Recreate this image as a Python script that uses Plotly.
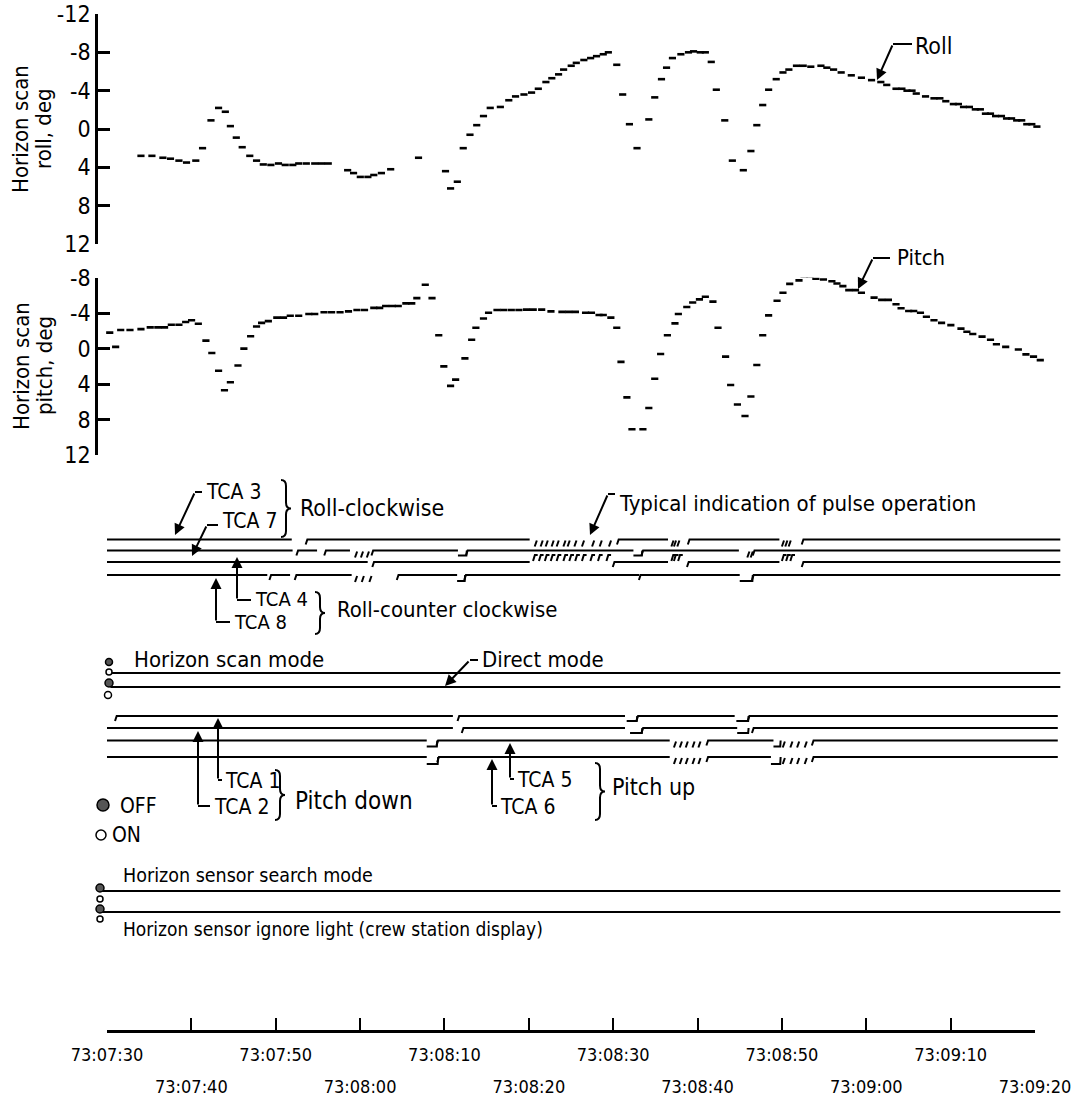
import plotly.graph_objects as go

W, H = 1074, 1107
FONT = "'Liberation Sans Narrow', 'DejaVu Sans Condensed', 'Arial Narrow', sans-serif"

# ---------------- data (time = seconds after 73:07:30) ----------------
TIME_TICKS = [0, 10, 20, 30, 40, 50, 60, 70, 80, 90, 100, 110]
TIME_LABELS = ["73:07:30", "73:07:40", "73:07:50", "73:08:00", "73:08:10", "73:08:20",
               "73:08:30", "73:08:40", "73:08:50", "73:09:00", "73:09:10", "73:09:20"]
ANGLE_TICKS = [-12, -8, -4, 0, 4, 8, 12]

roll_t = [3.6, 4.9, 6.2, 7.1, 8.1, 9.0, 10.1, 10.9, 11.9, 12.8, 13.6, 14.2, 14.9, 15.6,
          16.5, 17.3, 18.1, 19.0, 19.9, 20.7, 21.6, 22.3, 23.2, 24.2, 25.0, 25.8, 28.1,
          28.8, 29.6, 30.5, 31.2, 32.1, 33.2, 36.5, 39.7, 40.3, 41.1, 41.8, 42.6, 43.4,
          44.2, 45.0, 46.2, 47.2, 48.0, 49.0, 49.9, 50.7, 51.6, 52.3, 53.1, 53.7, 54.6,
          55.2, 56.1, 56.9, 57.6, 58.4, 59.0, 60.0, 60.7, 61.5, 62.4, 63.8, 64.5, 65.3,
          65.9, 66.6, 67.6, 68.5, 69.1, 69.9, 70.5, 71.2, 71.8, 72.8, 73.7, 75.0, 75.9,
          76.6, 77.3, 78.0, 78.9, 79.7, 80.4, 81.3, 82.1, 83.0, 84.2, 84.9, 85.7, 86.6,
          87.8, 89.0, 90.2, 91.3, 92.0, 93.1, 93.8, 94.4, 95.0, 95.5, 96.6, 97.6, 98.3,
          99.0, 99.9, 100.5, 101.1, 101.8, 102.5, 103.1, 103.7, 104.3, 104.9, 105.6,
          106.2, 106.8, 107.4, 108.0, 108.6, 109.2, 109.8]
roll_v = [2.8, 2.8, 3.0, 3.1, 3.3, 3.5, 3.3, 2.0, -0.9, -2.2, -1.8, -0.3, 0.9, 1.9,
          2.8, 3.3, 3.7, 3.75, 3.6, 3.75, 3.75, 3.6, 3.6, 3.6, 3.6, 3.6, 4.3,
          4.6, 5.0, 5.0, 4.8, 4.6, 4.2, 3.0, 4.4, 6.2, 5.5, 2.0, 0.6, -0.4,
          -1.35, -2.2, -2.3, -3.0, -3.4, -3.6, -3.8, -4.2, -4.9, -5.3, -5.7, -6.2, -6.6,
          -6.9, -7.2, -7.4, -7.6, -7.8, -8.0, -6.7, -3.6, -0.5, 2.0, -1.0, -3.3, -5.2,
          -6.4, -7.4, -7.8, -8.0, -8.1, -8.0, -8.0, -7.0, -4.1, -0.9, 3.3, 4.3, 2.3,
          -0.4, -2.5, -4.1, -5.2, -5.9, -6.2, -6.6, -6.6, -6.5, -6.6, -6.4, -6.2, -5.9,
          -5.6, -5.35, -5.1, -4.9, -4.6, -4.2, -4.2, -4.0, -4.0, -3.7, -3.4, -3.2, -3.2,
          -2.9, -2.6, -2.6, -2.3, -2.3, -2.05, -2.05, -1.6, -1.6, -1.35, -1.35,
          -1.1, -1.1, -0.9, -0.9, -0.5, -0.5, -0.25]

pitch_t = [-0.1, 0.6, 1.2, 2.3, 3.6, 4.7, 5.6, 6.4, 7.2, 8.1, 8.9, 9.6, 10.4, 11.3,
           12.0, 12.8, 13.5, 14.2, 15.1, 15.8, 16.6, 17.3, 17.9, 18.7, 19.7, 20.5, 21.3,
           22.3, 23.5, 24.2, 25.3, 26.2, 27.2, 28.2, 29.2, 30.1, 31.2, 31.9, 32.6, 33.4,
           34.1, 35.0, 35.7, 36.3, 37.3, 38.1, 38.9, 39.5, 40.3, 40.9, 42.0, 42.8, 43.3,
           44.2, 44.8, 45.8, 46.6, 47.5, 48.4, 49.3, 50.1, 51.1, 52.2, 53.5, 54.3, 55.1,
           56.3, 57.0, 57.9, 58.4, 59.3, 60.0, 60.5, 61.2, 61.8, 63.1, 63.8, 64.5, 65.2,
           66.0, 66.9, 67.3, 68.3, 69.0, 69.8, 70.5, 71.4, 72.0, 72.9, 73.5, 74.3, 75.2,
           75.9, 76.6, 77.3, 78.0, 79.0, 79.7, 80.5, 81.6, 82.2, 82.9, 83.6, 84.5, 85.5,
           86.1, 86.8, 87.5, 88.3, 89.0, 90.5, 91.4, 92.2, 93.1, 93.7, 94.6, 95.2, 96.0,
           96.7, 97.6, 98.5, 99.6, 100.8, 101.5, 102.2, 103.3, 104.3, 105.0, 106.1,
           107.6, 108.5, 109.4, 110.2]
pitch_v = [-1.8, -0.2, -2.1, -2.1, -2.2, -2.4, -2.4, -2.4, -2.7, -2.7, -3.0, -3.2, -2.8, -0.9,
           0.5, 2.5, 4.7, 3.8, 1.9, 0.0, -1.4, -2.5, -2.9, -3.1, -3.5, -3.5, -3.7,
           -3.7, -3.9, -3.9, -4.1, -4.1, -4.1, -4.2, -4.35, -4.35, -4.6, -4.6, -4.8, -4.8,
           -4.8, -5.1, -5.1, -5.7, -7.2, -5.7, -1.5, 2.0, 4.2, 3.5, 1.1, -1.0, -2.35,
           -3.4, -4.05, -4.35, -4.35, -4.35, -4.35, -4.4, -4.4, -4.4, -4.2, -4.15, -4.15, -4.15,
           -4.05, -4.05, -3.8, -3.8, -3.5, -2.35, 1.5, 5.5, 9.1, 9.1, 6.7, 3.4, 0.6,
           -1.5, -2.85, -3.9, -4.7, -5.2, -5.55, -5.85, -5.3, -2.35, 0.9, 4.1, 6.3, 7.6,
           5.4, 1.85, -1.5, -3.75, -5.4, -6.3, -7.3, -7.7, -8.1, -8.1, -7.9, -7.8, -7.6,
           -7.35, -7.05, -6.6, -6.6, -6.3, -5.75, -5.5, -5.5, -5.0, -4.55, -4.25, -4.25, -4.05,
           -3.6, -3.2, -2.9, -2.65, -2.25, -1.9, -1.65, -1.35, -1.0, -0.5, -0.2,
           0.1, 0.65, 0.9, 1.3]

# discrete event channels: solid intervals, short offset steps, pulse times (s)
tca3_on = [[0, 21.9], [23.6, 50.1], [60.5, 66.5], [68.9, 79.7], [82.4, 113.0]]
tca3_step = []
tca3_pulse = [50.7, 51.4, 52.0, 52.7, 53.3, 54.1, 54.6, 55.4, 56.3, 57.5, 58.4, 59.5,
              66.9, 67.2, 67.6, 80.0, 80.4, 80.8]
tca7_on = [[0, 22.0], [22.5, 24.9], [25.8, 28.8], [31.4, 41.6], [42.6, 62.4],
           [63.4, 74.9], [76.6, 113.0]]
tca7_step = [[41.6, 42.6], [62.4, 63.4]]
tca7_pulse = [29.4, 30.1, 30.8, 75.9, 76.3]
tca4_on = [[0, 30.9], [31.5, 50.1], [60.0, 66.5], [68.8, 79.7], [82.4, 113.0]]
tca4_step = []
tca4_pulse = [50.5, 51.2, 51.9, 52.6, 53.3, 54.1, 54.8, 55.5, 56.3, 57.3, 58.2, 59.2,
              66.9, 67.2, 67.7, 80.0, 80.5, 81.0]
tca8_on = [[0, 19.0], [19.3, 21.7], [22.3, 29.0], [34.4, 41.5], [42.4, 63.1],
           [63.1, 75.0], [76.5, 113.0]]
tca8_step = [[41.5, 42.4], [75.0, 76.5]]
tca8_pulse = [29.4, 30.2, 31.1]

scan_mode_on = [[0.4, 113.0]]
direct_mode_on = [[0.4, 113.0]]

tca1_on = [[1.0, 41.0], [41.6, 61.4], [62.8, 74.4], [76.0, 112.7]]
tca1_step = [[61.6, 62.8], [74.6, 76.0]]
tca1_pulse = []
tca2_on = [[0, 41.0], [42.1, 61.4], [63.4, 74.7], [76.5, 112.7]]
tca2_step = [[62.0, 63.4], [74.7, 76.0]]
tca2_pulse = []
tca5_on = [[0, 37.9], [39.1, 66.7], [71.1, 79.0], [83.6, 112.7]]
tca5_step = [[37.9, 39.1], [79.0, 79.8]]
tca5_pulse = [67.2, 67.9, 68.6, 69.4, 70.1, 80.1, 81.0, 81.8, 82.7]
tca6_on = [[0, 37.9], [39.2, 66.7], [71.1, 78.7], [83.6, 112.7]]
tca6_step = [[37.9, 39.2], [78.7, 79.8]]
tca6_pulse = [67.2, 67.9, 68.6, 69.4, 70.1, 80.1, 81.0, 81.8, 82.7]

search_mode_on = [[-0.6, 113.0]]
ignore_light_on = [[-0.6, 113.0]]

# ---------------- helpers ----------------
PX_PER_S = 928 / 110.0
X_RANGE = [-107 / PX_PER_S, (W - 107) / PX_PER_S]
DASH = 0.85


def X(p):
    return p / W


def Y(p):
    return 1 - p / H


def dashes(ts, vs):
    xs, ys = [], []
    for t, v in zip(ts, vs):
        xs += [t, t + DASH, None]
        ys += [v, v, None]
    return xs, ys


def channel(base, on, step=(), pulse=(), step_off=5, pdir=1, flag=False):
    xs, ys = [], []
    for t0, t1 in on:
        if t0 > 0.5:
            xs += [t0 - 0.05, t0 + 0.15, t1, None]
            ys += [base + 5, base, base, None]
        else:
            xs += [t0, t1, None]
            ys += [base, base, None]
    for t0, t1 in step:
        xs += [t0, t1, t1 + 0.05, None]
        ys += [base + step_off, base + step_off, base, None]
    for t in pulse:
        if pdir > 0:
            xs += [t, t + 0.25, None]
            ys += [base + 7, base + 1, None]
        else:
            if flag:
                xs += [t, t + 0.22, t + 0.55, None]
                ys += [base - 1, base - 7, base - 7, None]
            else:
                xs += [t, t + 0.25, None]
                ys += [base - 1, base - 7, None]
    return xs, ys


fig = go.Figure()
BLACK = "black"

rx, ry = dashes(roll_t, roll_v)
fig.add_trace(go.Scatter(x=rx, y=ry, xaxis="x", yaxis="y", mode="lines",
                         line=dict(color=BLACK, width=2.6), hoverinfo="skip"))
qx, qy = dashes(pitch_t, pitch_v)
fig.add_trace(go.Scatter(x=qx, y=qy, xaxis="x", yaxis="y2", mode="lines",
                         line=dict(color=BLACK, width=2.6), hoverinfo="skip"))

# channel rows (pixel rows on the event axis)
ROWS = [
    (539.5, tca3_on, tca3_step, tca3_pulse, 5, 1, False),
    (550.5, tca7_on, tca7_step, tca7_pulse, 5, 1, False),
    (562.0, tca4_on, tca4_step, tca4_pulse, 5, -1, True),
    (575.0, tca8_on, tca8_step, tca8_pulse, 6, 1, False),
    (673.0, scan_mode_on, [], [], 5, 1, False),
    (687.0, direct_mode_on, [], [], 5, 1, False),
    (716.0, tca1_on, tca1_step, tca1_pulse, 5, 1, False),
    (728.0, tca2_on, tca2_step, tca2_pulse, 5, 1, False),
    (740.5, tca5_on, tca5_step, tca5_pulse, 6, 1, False),
    (757.0, tca6_on, tca6_step, tca6_pulse, 7, 1, False),
    (891.0, search_mode_on, [], [], 5, 1, False),
    (912.0, ignore_light_on, [], [], 5, 1, False),
]
for base, on, st, pu, so, pd, fl in ROWS:
    cx, cy = channel(base, on, st, pu, so, pd, fl)
    fig.add_trace(go.Scatter(x=cx, y=cy, xaxis="x", yaxis="y3", mode="lines",
                             line=dict(color=BLACK, width=2.0), hoverinfo="skip"))

# invisible anchors for time axes
for xa in ("x2", "x3"):
    fig.add_trace(go.Scatter(x=[0], y=[0], xaxis=xa, yaxis="y4", mode="markers",
                             marker=dict(opacity=0), hoverinfo="skip"))

# ---------------- annotations ----------------
ann = []
TXT = [
    (913, 46, "Roll", 23),
    (895, 258, "Pitch", 22),
    (204, 492, "TCA 3", 21),
    (220, 521, "TCA 7", 21),
    (298, 508, "Roll-clockwise", 23),
    (253, 599, "TCA 4", 20),
    (232, 622, "TCA 8", 20),
    (335, 609, "Roll-counter clockwise", 22),
    (617, 503, "Typical indication of pulse operation", 22),
    (132, 659, "Horizon scan mode", 22),
    (480, 659, "Direct mode", 22),
    (223, 781, "TCA 1", 21),
    (212, 807, "TCA 2", 21),
    (293, 801, "Pitch down", 24),
    (515, 780, "TCA 5", 21),
    (498, 807, "TCA 6", 21),
    (610, 787, "Pitch up", 23),
    (118, 806, "OFF", 21),
    (110, 835, "ON", 21),
    (121, 875, "Horizon sensor search mode", 19.5),
    (121, 929, "Horizon sensor ignore light (crew station display)", 19),
]
for x, y, t, s in TXT:
    ann.append(dict(x=X(x), y=Y(y), xref="paper", yref="paper", text=t, showarrow=False,
                    xanchor="left", yanchor="middle",
                    font=dict(family=FONT, size=s, color=BLACK)))

# axis titles
for yc, l1, l2 in [(129, "Horizon scan", "roll, deg"), (366, "Horizon scan", "pitch, deg")]:
    ann.append(dict(x=X(21), y=Y(yc), xref="paper", yref="paper", text=l1, showarrow=False,
                    textangle=-90, xanchor="center", yanchor="middle",
                    font=dict(family=FONT, size=22, color=BLACK)))
    ann.append(dict(x=X(44), y=Y(yc), xref="paper", yref="paper", text=l2, showarrow=False,
                    textangle=-90, xanchor="center", yanchor="middle",
                    font=dict(family=FONT, size=22, color=BLACK)))

# leader arrows: (tail_x, tail_y, tip_x, tip_y)
ARROWS = [
    (893, 44, 877, 80),
    (873, 258, 858, 289),
    (195, 492, 175, 535),
    (207, 525, 192, 556),
    (237, 600, 237, 557),
    (216, 622, 216, 578),
    (608, 494, 590, 535),
    (470, 660, 445, 686),
    (218, 780, 218, 718),
    (198, 806, 198, 731),
    (510, 779, 510, 743),
    (492, 806, 492, 759),
]
for tx, ty, hx, hy in ARROWS:
    ann.append(dict(x=X(hx), y=Y(hy), xref="paper", yref="paper", text="", showarrow=True,
                    ax=tx - hx, ay=ty - hy, arrowhead=2, arrowsize=1.1, arrowwidth=2,
                    arrowcolor=BLACK, standoff=0))

shapes = []
# short leader pieces next to labels
HOOKS = [
    (893, 44, 912, 44), (873, 258, 890, 258), (195, 492, 202, 492), (207, 525, 218, 525),
    (237, 600, 251, 600), (216, 622, 230, 622), (608, 494, 615, 494), (470, 660, 478, 660),
    (218, 780, 222, 780), (198, 806, 210, 806), (510, 779, 514, 779), (492, 806, 497, 806),
]
for x0, y0, x1, y1 in HOOKS:
    shapes.append(dict(type="line", xref="paper", yref="paper", x0=X(x0), y0=Y(y0),
                       x1=X(x1), y1=Y(y1), line=dict(color=BLACK, width=2)))


def brace(xl, xr, yt, yb):
    xm = (xl + xr) / 2
    ym = (yt + yb) / 2
    d = 6
    p = (f"M {X(xl)},{Y(yt)} Q {X(xm)},{Y(yt)} {X(xm)},{Y(yt + d)} "
         f"L {X(xm)},{Y(ym - d)} Q {X(xm)},{Y(ym)} {X(xr)},{Y(ym)} "
         f"Q {X(xm)},{Y(ym)} {X(xm)},{Y(ym + d)} L {X(xm)},{Y(yb - d)} "
         f"Q {X(xm)},{Y(yb)} {X(xl)},{Y(yb)}")
    return dict(type="path", xref="paper", yref="paper", path=p,
                line=dict(color=BLACK, width=2))


for b in [(281, 291, 480, 537), (315, 325, 592, 634), (275, 285, 770, 820), (595, 605, 763, 820)]:
    shapes.append(brace(*b))

# ON / OFF symbols
CIRC = [
    (109, 662, 3.5, True), (109, 672, 3, False), (109, 683, 4, True), (108, 695, 3.5, False),
    (103, 805, 6, True), (101, 835, 5, False),
    (100, 888, 4, True), (100, 899, 3, False), (100, 909, 4, True), (100, 919, 3, False),
]
for cx, cy, r, filled in CIRC:
    shapes.append(dict(type="circle", xref="paper", yref="paper",
                       x0=X(cx - r), x1=X(cx + r), y0=Y(cy + r), y1=Y(cy - r),
                       fillcolor="#555555" if filled else "white",
                       line=dict(color=BLACK, width=1.5)))

AX_ANGLE = dict(anchor="free", position=X(96), showline=True, linecolor=BLACK, linewidth=2.5,
                ticks="inside", ticklen=12, tickwidth=2.5, tickcolor=BLACK,
                tickvals=ANGLE_TICKS, ticktext=[str(v) for v in ANGLE_TICKS],
                tickfont=dict(family=FONT, size=23, color=BLACK), automargin=False,
                showgrid=False, zeroline=False, fixedrange=True)

fig.update_layout(
    template="none",
    width=W, height=H, margin=dict(l=0, r=0, t=0, b=0, pad=0, autoexpand=False),
    paper_bgcolor="white", plot_bgcolor="rgba(0,0,0,0)", showlegend=False,
    font=dict(family=FONT, color=BLACK, size=21),
    xaxis=dict(domain=[0, 1], range=X_RANGE, visible=False, anchor="y3", automargin=False),
    yaxis=dict(domain=[Y(244), Y(14)], range=[12, -12], **AX_ANGLE),
    yaxis2=dict(domain=[Y(455), Y(277.7)], range=[12, -8], **AX_ANGLE),
    yaxis3=dict(domain=[0, 1], range=[H, 0], visible=False, anchor="x", automargin=False),
    yaxis4=dict(domain=[Y(1030), Y(1000)], range=[0, 1], visible=False, anchor="x2",
                automargin=False),
    xaxis2=dict(domain=[X(107), X(1035)], range=[0, 110], anchor="y4", side="bottom",
                showline=True, linecolor=BLACK, linewidth=2.5, ticks="inside", ticklen=12,
                tickwidth=2, tickcolor=BLACK, tickvals=TIME_TICKS, automargin=False,
                ticktext=[lab if i % 2 == 0 else "" for i, lab in enumerate(TIME_LABELS)],
                tickfont=dict(family=FONT, size=18, color=BLACK), ticklabelstandoff=7,
                showgrid=False, zeroline=False),
    xaxis3=dict(domain=[X(107), X(1035)], range=[0, 110], anchor="y4", overlaying="x2",
                side="bottom", showline=False, ticks="", automargin=False,
                tickvals=TIME_TICKS[1::2], ticktext=TIME_LABELS[1::2],
                tickfont=dict(family=FONT, size=18, color=BLACK), ticklabelstandoff=44,
                showgrid=False, zeroline=False),
    annotations=ann, shapes=shapes,
)

fig.write_html("out.html", config={"displayModeBar": False},
               post_script="document.body.style.margin='0';")
